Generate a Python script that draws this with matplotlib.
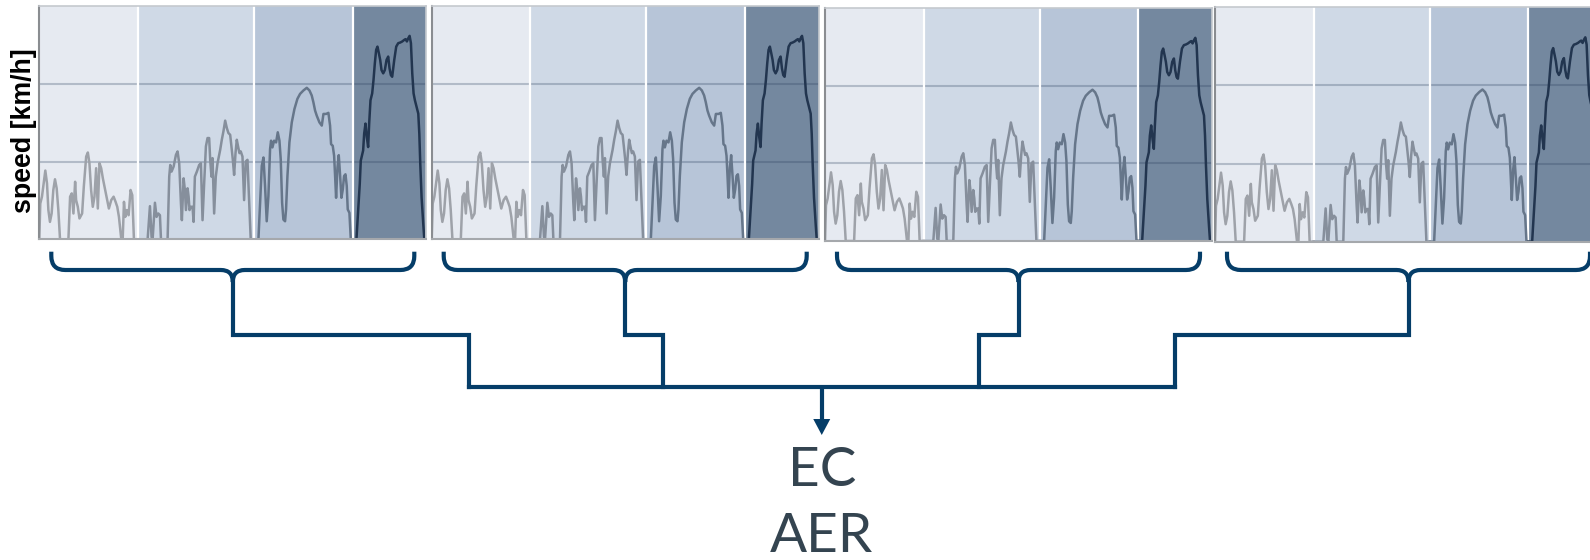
import matplotlib
matplotlib.use("Agg")
import matplotlib.pyplot as plt
from matplotlib.path import Path
from matplotlib.patches import PathPatch, Polygon
import numpy as np

# speed trace, one list pair per phase:
# position inside the phase (0..1) and speed in km/h
low_t = [0, 0.01, 0.027, 0.061, 0.078, 0.092, 0.108, 0.125, 0.142, 0.159, 0.176, 0.193,
         0.21, 0.295, 0.312, 0.329, 0.346, 0.363, 0.373, 0.39, 0.407, 0.434, 0.451, 0.475,
         0.492, 0.508, 0.525, 0.542, 0.559, 0.576, 0.593, 0.61, 0.627, 0.644, 0.678, 0.705,
         0.729, 0.753, 0.773, 0.79, 0.807, 0.831, 0.845, 0.858, 0.871, 0.888, 0.905, 0.925,
         0.942, 0.959, 1.0]
low_v = [0, 23, 27.4, 44.2, 36, 18.8, 11.2, 16.6, 31.7, 38.6, 32.8, 18.8,
         0, 0, 27.4, 29.5, 16.6, 37, 25.2, 20.9, 13.4, 16.6, 33.8, 53.2,
         55.8, 48.9, 31.7, 20.9, 27.4, 45.7, 19.8, 48.9, 45.7, 39.2, 28.4, 19.8,
         25.2, 27.4, 24.1, 20.9, 14.4, 0, 0, 24.1, 14.4, 18.8, 15.5, 31.7,
         28.4, 0, 0]

medium_t = [0, 0.083, 0.103, 0.117, 0.126, 0.146, 0.16, 0.175, 0.189, 0.198, 0.255, 0.269,
            0.278, 0.289, 0.307, 0.327, 0.341, 0.355, 0.37, 0.378, 0.393, 0.404, 0.413, 0.427,
            0.436, 0.444, 0.456, 0.47, 0.479, 0.49, 0.507, 0.527, 0.542, 0.556, 0.57, 0.585,
            0.599, 0.613, 0.622, 0.633, 0.642, 0.656, 0.67, 0.685, 0.708, 0.722, 0.736, 0.751,
            0.765, 0.779, 0.794, 0.805, 0.817, 0.828, 0.84, 0.851, 0.862, 0.874, 0.885, 0.9,
            0.914, 0.928, 0.943, 0.957, 0.971, 1.0]
medium_v = [0, 0, 21.3, 1.5, 0, 23.5, 14.4, 16.6, 15.5, 0, 0, 40.3,
            47.8, 43.5, 46.8, 54.3, 56.5, 48.9, 23.1, 12.3, 39.2, 31.7, 18.8, 32.8,
            27.4, 18.8, 20.9, 20.9, 11.2, 40.3, 43.5, 47.8, 48.9, 12.3, 36, 59.7,
            65.1, 65.1, 51.1, 40.3, 52.2, 16.6, 40.3, 48.9, 57.5, 64, 69.4, 76.3,
            71.6, 68.3, 67.2, 59.7, 51.1, 41.4, 55.4, 64, 59.7, 55.4, 56.5, 53.2,
            25.2, 50, 51.1, 25.2, 0, 0]

high_t = [0, 0.044, 0.061, 0.078, 0.095, 0.111, 0.128, 0.145, 0.162, 0.172, 0.186, 0.203,
          0.223, 0.24, 0.257, 0.27, 0.284, 0.297, 0.314, 0.324, 0.338, 0.358, 0.382, 0.409,
          0.439, 0.466, 0.5, 0.534, 0.561, 0.584, 0.601, 0.618, 0.635, 0.662, 0.686, 0.703,
          0.73, 0.753, 0.77, 0.78, 0.797, 0.811, 0.821, 0.831, 0.845, 0.858, 0.872, 0.885,
          0.899, 0.912, 0.926, 0.939, 0.949, 0.966, 0.98, 1.0]
high_v = [0, 0, 23.5, 47.2, 52.6, 34.3, 11.6, 27.8, 58, 63.4, 59.1, 63.4,
          62.3, 68.8, 63.4, 51.5, 23.5, 12.7, 11.6, 19.2, 40.7, 62.3, 75.2, 83.8,
          90.3, 93.5, 95.7, 97.4, 95.7, 92.5, 88.1, 82.8, 79.5, 75.2, 73.1, 80.6,
          80.6, 81.3, 73.1, 61.2, 60.1, 53.7, 40.7, 26.7, 46.1, 54.1, 40.7, 26.7,
          32.1, 40.7, 41.8, 34.3, 19.2, 17, 0, 0]

extra_t = [0, 0.05, 0.073, 0.095, 0.109, 0.141, 0.155, 0.173, 0.191, 0.209, 0.223, 0.241,
           0.264, 0.282, 0.3, 0.318, 0.336, 0.355, 0.373, 0.391, 0.414, 0.436, 0.459, 0.482,
           0.5, 0.518, 0.536, 0.564, 0.591, 0.618, 0.645, 0.673, 0.7, 0.718, 0.736, 0.755,
           0.773, 0.791, 0.809, 0.827, 0.845, 0.868, 0.891, 0.905, 0.918, 0.936, 0.959, 0.973,
           1.0]
extra_v = [0, 0, 18.3, 35.6, 50.6, 57.1, 67.9, 74.4, 65.7, 59.3, 74.4, 89.4,
           93.8, 102.4, 113.1, 121.8, 123.9, 119.6, 115.3, 108.8, 106.7, 108.8, 115.3, 117.5,
           109.9, 105.6, 104.5, 115.3, 123.9, 126.1, 126.5, 127.2, 128.2, 128.7, 127.2, 129.3,
           130.8, 126.1, 106.7, 93.8, 89.4, 85.1, 80.8, 67.9, 48.5, 26.9, 9.7, 0,
           0]

traces = [(low_t, low_v), (medium_t, medium_v), (high_t, high_v), (extra_t, extra_v)]
grid_speeds = [50, 100]
n_cycles = 4
result_labels = ["EC", "AER"]

# layout / styling
W, H = 1590, 560
phase_edges = [0.0, 0.255, 0.555, 0.81, 1.0]
phase_bg = ["#e6eaf1", "#cfd9e6", "#b7c5d8", "#74889f"]
phase_line = ["#9ea2a9", "#868f9c", "#66768a", "#22354f"]
panel_left = [39.3, 431.7, 825, 1215]
panel_top = [6, 6, 8, 7.3]
panel_bottom = [239.3, 239.3, 241, 241.7]
panel_w = 387
navy = "#053d68"


def px_rect(left, top, right, bottom):
    return [left / W, 1 - bottom / H, (right - left) / W, (bottom - top) / H]


fig = plt.figure(figsize=(W / 100, H / 100), dpi=100)

# overlay axes in pixel units for the braces / tree
ov = fig.add_axes([0, 0, 1, 1])
ov.set_xlim(0, W)
ov.set_ylim(H, 0)
ov.axis("off")

for i in range(n_cycles):
    l = panel_left[i]
    ax = fig.add_axes(px_rect(l, panel_top[i], l + panel_w, panel_bottom[i]))
    for k in range(4):
        ax.axvspan(phase_edges[k], phase_edges[k + 1], color=phase_bg[k], lw=0, zorder=0)
    for g in grid_speeds:
        ax.axhline(g, color="#2e4360", alpha=0.28, lw=1.5, zorder=1)
    for e in phase_edges[1:-1]:
        ax.axvline(e, color="white", lw=1.6, zorder=1.5)
    for k, (t, v) in enumerate(traces):
        x = phase_edges[k] + np.array(t) * (phase_edges[k + 1] - phase_edges[k])
        ax.plot(x, v, color=phase_line[k], lw=1.8, zorder=2, solid_joinstyle="round")
    ax.set_xlim(0, 1)
    ax.set_ylim(0, 150)
    ax.set_xticks([])
    ax.set_yticks([])
    for side in ["top", "right"]:
        ax.spines[side].set_color("#c5c9ce")
        ax.spines[side].set_linewidth(1.2)
    ax.spines["left"].set_color("#8a8d91")
    ax.spines["left"].set_linewidth(1.5)
    ax.spines["bottom"].set_color("#a5a8ac")
    ax.spines["bottom"].set_linewidth(1.5)

fig.text(24 / W, 1 - 131 / H, "speed [km/h]", rotation=90, ha="center", va="center",
         fontsize=19.3, fontweight="bold", family=["Liberation Sans", "DejaVu Sans"])

# curly braces under each cycle
y_tip, y_mid, r_end, r_mid = 251.7, 270, 14, 12
y_step, y_bus = 335, 387
junction_x = [468.5, 663.3, 979, 1175]
lw = 3

for i in range(n_cycles):
    x0 = panel_left[i] + 12
    x1 = panel_left[i] + panel_w - 12
    xc = (x0 + x1) / 2
    for xe, s in ((x0, 1), (x1, -1)):
        verts = [(xe, y_tip), (xe, y_mid - r_end), (xe, y_mid), (xe + s * r_end, y_mid),
                 (xc - s * r_mid, y_mid), (xc, y_mid), (xc, y_mid + r_mid)]
        codes = [Path.MOVETO, Path.LINETO, Path.CURVE3, Path.CURVE3,
                 Path.LINETO, Path.CURVE3, Path.CURVE3]
        ov.add_patch(PathPatch(Path(verts, codes), fill=False, ec=navy, lw=lw,
                               capstyle="butt", joinstyle="round"))
    xj = junction_x[i]
    ov.plot([xc, xc, xj, xj], [y_mid + r_mid - 1, y_step, y_step, y_bus], color=navy, lw=lw,
            solid_joinstyle="miter", solid_capstyle="projecting")

ov.plot([min(junction_x), max(junction_x)], [y_bus, y_bus], color=navy, lw=lw,
        solid_capstyle="projecting")

# arrow down to the results
xa = (min(junction_x) + max(junction_x)) / 2
ov.plot([xa, xa], [y_bus, 422], color=navy, lw=lw, solid_capstyle="butt")
ov.add_patch(Polygon([(xa - 8.5, 419), (xa + 8.5, 419), (xa, 435)], closed=True,
                     fc=navy, ec="none"))

ov.text(xa, 486.5, result_labels[0], ha="center", va="baseline", fontsize=39.5,
        family=["Lato", "DejaVu Sans"], color="#344450")
ov.text(xa, 551.5, result_labels[1], ha="center", va="baseline", fontsize=39.5,
        family=["Lato", "DejaVu Sans"], color="#344450")

fig.savefig("out.png", dpi=100)
